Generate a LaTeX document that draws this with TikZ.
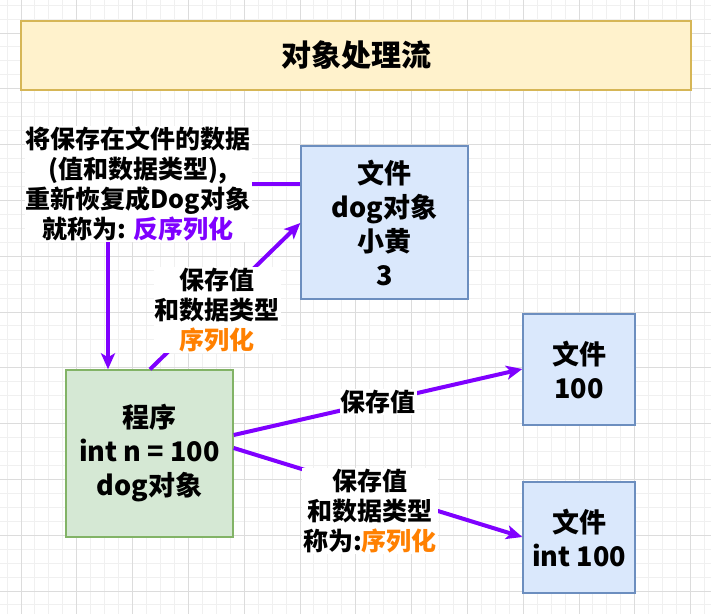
\documentclass[tikz,border=0pt]{standalone}
\usepackage{fontspec}
\setmainfont{Noto Sans CJK SC}
\usetikzlibrary{arrows.meta}
\definecolor{gridmajor}{HTML}{DCDCDC}
\definecolor{gridminor}{HTML}{F0F0F0}
\definecolor{bluefill}{HTML}{DAE8FC}
\definecolor{bluedraw}{HTML}{6C8EBF}
\definecolor{greenfill}{HTML}{D5E8D4}
\definecolor{greendraw}{HTML}{82B366}
\definecolor{yellowfill}{HTML}{FFF2CC}
\definecolor{yellowdraw}{HTML}{D6B656}
\definecolor{flowviolet}{HTML}{7F00FF}
\definecolor{orangetext}{HTML}{FF8000}
\begin{document}
\begin{tikzpicture}[x=1pt,y=-1pt,
  boxtext/.style={align=center, font=\fontsize{27}{34}\selectfont\bfseries, inner sep=0pt, line width=1.4pt},
  filebox/.style={boxtext, draw=bluedraw, fill=bluefill},
  progbox/.style={boxtext, draw=greendraw, fill=greenfill},
  titlebox/.style={boxtext, draw=yellowdraw, fill=yellowfill, font=\fontsize{30}{36}\selectfont\bfseries},
  flow/.style={draw=flowviolet, line width=4pt},
  flowarrow/.style={flow, -{Stealth[length=16pt,width=14pt,inset=4pt]}},
  lbl/.style={fill=white, align=center, inner sep=1pt, font=\fontsize{25}{30}\selectfont\bfseries}
]
\useasboundingbox (0,0) rectangle (711,614);
\fill[white] (0,0) rectangle (711,614);
% grid
\begin{scope}[line width=1pt]
\foreach \k in {-1,...,49} \draw[gridminor] ({21+13.95*\k},0) -- ({21+13.95*\k},614);
\foreach \k in {-2,...,42} \draw[gridminor] (0,{33+13.95*\k}) -- (711,{33+13.95*\k});
\foreach \k in {0,...,12} \draw[gridmajor] ({21+55.8*\k},0) -- ({21+55.8*\k},614);
\foreach \k in {0,...,10} \draw[gridmajor] (0,{33+55.8*\k}) -- (711,{33+55.8*\k});
\end{scope}

% nodes
\node[titlebox, minimum width=670pt, minimum height=69pt] (title) at (356,55.5) {对象处理流};
\node[filebox, minimum width=167pt, minimum height=153pt] (dog) at (384.5,222.5) {文件\\dog对象\\小黄\\3};
\node[filebox, minimum width=112pt, minimum height=111pt] (f100) at (579,369.5) {文件\\100};
\node[filebox, minimum width=112pt, minimum height=111pt] (fint) at (579,537.5) {文件\\int 100};
\node[progbox, minimum width=167pt, minimum height=167pt] (prog) at (149.5,453.5) {程序\\int n = 100\\dog对象};

% connectors
\draw[flowarrow] (dog.west |- 0,184) -| (prog.north -| 108,0);
\node[lbl] (l1) at (138,184) {将保存在文件的数据\\(值和数据类型),\\重新恢复成Dog对象\\就称为: \textcolor{flowviolet}{反序列化}};

\draw[flowarrow] (prog.north -| 150,0) -- (dog.west |- 0,223);
\node[lbl] (l2) at (217,310) {保存值\\和数据类型\\\textcolor{orangetext}{序列化}};

\draw[flowarrow] (prog.east |- 0,435) -- node[lbl] (l3) {保存值} (f100.west |- 0,369);

\draw[flowarrow] (prog.east |- 0,448) -- (fint.west |- 0,537);
\node[lbl] (l4) at (370,511) {保存值\\和数据类型\\称为:\textcolor{orangetext}{序列化}};
\end{tikzpicture}
\end{document}
